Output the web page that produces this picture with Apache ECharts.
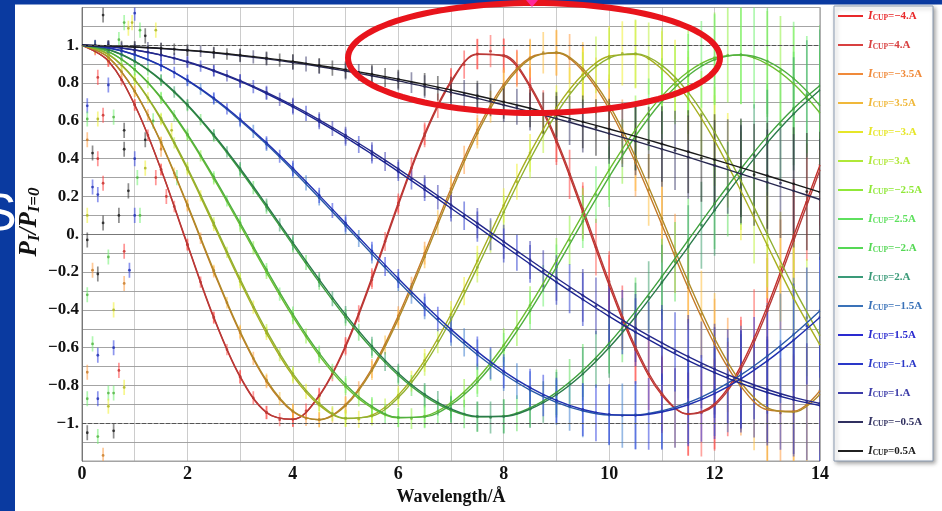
<!DOCTYPE html>
<html><head><meta charset="utf-8">
<script src="https://cdn.jsdelivr.net/npm/echarts@6/dist/echarts.min.js"></script>
<style>html,body{margin:0;padding:0;background:#ffffff}#c{width:942px;height:511px}</style>
</head><body><div id="c"></div>
<script>
// ---- data ----
const lambda = [0,0.5,1,1.5,2,2.5,3,3.5,4,4.5,5,5.5,6,6.5,7,7.5,8,8.5,9,9.5,10,10.5,11,11.5,12,12.5,13,13.5,14];
const currentLabels = ['\u22124.A','4.A','\u22123.5A','3.5A','\u22123.A','3.A','\u22122.5A','2.5A','\u22122.A','2.A','\u22121.5A','1.5A','\u22121.A','1.A','\u22120.5A','0.5A'];
// fitted curves
const curveM40 = [1,0.917,0.684,0.341,-0.057,-0.443,-0.756,-0.944,-0.978,-0.852,-0.588,-0.229,0.166,0.532,0.810,0.954,0.943,0.778,0.487,0.117,-0.270,-0.611,-0.851,-0.952,-0.897,-0.696,-0.382,-0.008,0.367];
const curveP40 = [1,0.917,0.685,0.344,-0.052,-0.438,-0.752,-0.942,-0.979,-0.856,-0.596,-0.240,0.154,0.521,0.802,0.952,0.947,0.788,0.502,0.136,-0.250,-0.595,-0.841,-0.950,-0.905,-0.713,-0.406,-0.035,0.341];
const curveM35 = [1,0.936,0.756,0.483,0.151,-0.199,-0.522,-0.779,-0.939,-0.981,-0.901,-0.710,-0.431,-0.100,0.242,0.553,0.793,0.935,0.959,0.865,0.663,0.380,0.051,-0.283,-0.581,-0.805,-0.928,-0.936,-0.827];
const curveP35 = [1,0.937,0.758,0.487,0.157,-0.191,-0.514,-0.772,-0.935,-0.981,-0.907,-0.721,-0.448,-0.120,0.221,0.534,0.779,0.928,0.962,0.877,0.685,0.409,0.084,-0.250,-0.551,-0.784,-0.919,-0.941,-0.846];
const curveM30 = [1,0.952,0.817,0.607,0.343,0.048,-0.250,-0.524,-0.749,-0.904,-0.975,-0.957,-0.851,-0.667,-0.423,-0.141,0.153,0.431,0.669,0.845,0.942,0.952,0.875,0.718,0.496,0.229,-0.058,-0.338,-0.586];
const curveP30 = [1,0.953,0.820,0.613,0.352,0.060,-0.237,-0.510,-0.737,-0.895,-0.973,-0.962,-0.864,-0.689,-0.452,-0.175,0.117,0.397,0.639,0.823,0.932,0.956,0.894,0.751,0.541,0.283,0.000,-0.282,-0.536];
const curveM25 = [1,0.966,0.871,0.720,0.523,0.294,0.048,-0.201,-0.436,-0.642,-0.807,-0.919,-0.971,-0.962,-0.891,-0.763,-0.587,-0.375,-0.139,0.105,0.341,0.554,0.731,0.860,0.934,0.948,0.901,0.797,0.642];
const curveP25 = [1,0.967,0.872,0.724,0.530,0.304,0.060,-0.187,-0.422,-0.629,-0.795,-0.911,-0.969,-0.966,-0.902,-0.781,-0.612,-0.405,-0.174,0.068,0.304,0.520,0.703,0.840,0.924,0.950,0.916,0.824,0.681];
const curveM20 = [1,0.977,0.915,0.814,0.681,0.520,0.339,0.144,-0.056,-0.253,-0.439,-0.605,-0.746,-0.856,-0.931,-0.966,-0.962,-0.918,-0.836,-0.721,-0.576,-0.408,-0.224,-0.031,0.162,0.347,0.518,0.666,0.787];
const curveP20 = [1,0.978,0.916,0.817,0.686,0.527,0.348,0.155,-0.044,-0.239,-0.425,-0.592,-0.735,-0.847,-0.924,-0.964,-0.964,-0.925,-0.849,-0.739,-0.599,-0.436,-0.255,-0.066,0.127,0.312,0.485,0.637,0.763];
const curveM15 = [1,0.986,0.950,0.892,0.813,0.716,0.602,0.476,0.338,0.193,0.045,-0.104,-0.250,-0.390,-0.520,-0.637,-0.739,-0.824,-0.889,-0.934,-0.956,-0.956,-0.934,-0.891,-0.827,-0.744,-0.644,-0.530,-0.404];
const curveP15 = [1,0.987,0.951,0.894,0.816,0.721,0.609,0.484,0.349,0.206,0.059,-0.089,-0.234,-0.373,-0.503,-0.621,-0.725,-0.811,-0.879,-0.927,-0.953,-0.958,-0.940,-0.902,-0.843,-0.765,-0.670,-0.560,-0.439];
const curveM10 = [1,0.993,0.975,0.948,0.911,0.864,0.809,0.745,0.674,0.596,0.513,0.424,0.332,0.236,0.138,0.040,-0.059,-0.157,-0.253,-0.345,-0.434,-0.518,-0.596,-0.668,-0.732,-0.789,-0.837,-0.876,-0.906];
const curveP10 = [1,0.993,0.976,0.949,0.913,0.867,0.813,0.751,0.682,0.606,0.524,0.437,0.346,0.252,0.156,0.059,-0.039,-0.136,-0.231,-0.323,-0.411,-0.496,-0.574,-0.647,-0.713,-0.771,-0.821,-0.863,-0.895];
const curveM05 = [1,0.997,0.991,0.983,0.973,0.960,0.945,0.928,0.909,0.888,0.864,0.839,0.812,0.782,0.751,0.719,0.684,0.649,0.612,0.573,0.533,0.493,0.451,0.408,0.364,0.320,0.275,0.230,0.184];
const curveP05 = [1,0.997,0.991,0.984,0.974,0.962,0.948,0.932,0.914,0.893,0.871,0.847,0.821,0.793,0.764,0.733,0.701,0.667,0.631,0.595,0.557,0.518,0.478,0.437,0.395,0.353,0.310,0.267,0.223];
// half length of the error bars at the curve wavelengths
const errHalf = [0,0.03,0.03,0.03,0.03,0.03,0.035,0.035,0.04,0.04,0.045,0.05,0.05,0.06,0.07,0.08,0.09,0.10,0.12,0.14,0.16,0.18,0.20,0.22,0.24,0.26,0.28,0.30,0.32];
// extra measured points between the curve samples
const lambdaMid = [0.25,0.75,1.25,1.75,2.25,2.75,3.25,3.75,4.25,4.75,5.25,5.75,6.25,6.75,7.25,7.75,8.25,8.75,9.25,9.75,10.25,10.75,11.25,11.75,12.25,12.75,13.25,13.75];
const pointsI40 = [0.978,0.817,0.524,0.147,-0.253,-0.610,-0.866,-0.981,-0.935,-0.738,-0.421,-0.038,0.351,0.680,0.898,0.969,0.882,0.652,0.317,-0.068,-0.441,-0.740,-0.918,-0.945,-0.819,-0.561,-0.212,0.170];
const pointsI35 = [0.983,0.860,0.631,0.324,-0.021,-0.362,-0.657,-0.870,-0.974,-0.957,-0.823,-0.586,-0.279,0.062,0.394,0.675,0.873,0.961,0.930,0.785,0.543,0.235,-0.101,-0.423,-0.691,-0.873,-0.946,-0.902];
const pointsI30 = [0.988,0.896,0.722,0.484,0.203,-0.096,-0.385,-0.637,-0.831,-0.948,-0.978,-0.919,-0.777,-0.564,-0.301,-0.012,0.278,0.540,0.753,0.896,0.957,0.930,0.819,0.634,0.392,0.115,-0.171,-0.441];
const pointsI25 = [0.991,0.926,0.803,0.628,0.415,0.177,-0.072,-0.316,-0.538,-0.725,-0.866,-0.951,-0.975,-0.937,-0.840,-0.690,-0.496,-0.272,-0.032,0.210,0.437,0.635,0.792,0.899,0.948,0.936,0.865,0.739];
const pointsI20 = [0.994,0.951,0.870,0.753,0.607,0.436,0.247,0.050,-0.149,-0.341,-0.518,-0.673,-0.800,-0.894,-0.951,-0.969,-0.947,-0.887,-0.790,-0.662,-0.507,-0.332,-0.145,0.048,0.238,0.418,0.580,0.717];
const pointsI15 = [0.996,0.971,0.924,0.856,0.769,0.664,0.545,0.413,0.272,0.126,-0.022,-0.170,-0.313,-0.448,-0.572,-0.682,-0.777,-0.853,-0.910,-0.945,-0.959,-0.950,-0.920,-0.868,-0.797,-0.708,-0.603,-0.485];
const pointsI10 = [0.998,0.986,0.963,0.931,0.890,0.839,0.781,0.714,0.640,0.560,0.475,0.385,0.292,0.196,0.098,0.000,-0.098,-0.194,-0.288,-0.379,-0.465,-0.547,-0.622,-0.691,-0.752,-0.805,-0.850,-0.886];
const pointsI05 = [0.999,0.994,0.988,0.979,0.968,0.954,0.939,0.921,0.901,0.879,0.856,0.830,0.802,0.773,0.742,0.710,0.675,0.640,0.603,0.565,0.526,0.485,0.444,0.402,0.359,0.315,0.271,0.226];
const errMid = [0.03,0.03,0.03,0.03,0.03,0.03,0.035,0.035,0.04,0.04,0.045,0.05,0.055,0.065,0.075,0.085,0.095,0.11,0.13,0.15,0.17,0.19,0.21,0.23,0.25,0.27,0.29,0.31];
// scattered short-wavelength points: wavelength, value, colour group
const earlyLambda = [0.4,0.8,0.88,1.0,0.3,0.5,0.1,0.1,0.4,0.1,0.3,0.6,0.2,0.3,0.4,0.2,0.3,0.88,0.1,0.4,0.7,1.0,1.1,0.1,0.8,0.5,0.3,0.2,0.9,0.8,0.1,0.6,0.2,0.3,0.6,0.1,0.7,0.1,0.3,0.5,0.5,0.8,0.6,0.1,0.3,0.6,0.4,0.8,0.8,1.0,1.05,1.2,1.2,1.35,1.4,1.5,1.6,1.7,1.8,0.95,1.1,1.4,1.2,0.7];
const earlyValue  = [1.16,1.12,1.09,1.17,0.83,0.79,0.68,0.5,0.63,0.61,0.61,0.62,0.43,0.40,0.27,0.25,0.21,0.23,0.1,0.06,0.1,0.1,0.1,-0.03,-0.09,-0.12,-0.21,-0.19,-0.19,-0.26,-0.32,-0.40,-0.58,-0.64,-0.60,-0.73,-0.72,-0.87,-0.87,-0.84,-0.91,-0.81,-0.84,-1.05,-1.07,-1.04,-1.17,0.45,0.55,0.4,0.3,0.5,0.35,0.6,0.3,0.45,0.2,0.55,0.3,1.12,1.08,1.08,1.05,1.03];
const earlyGroup  = ['k','g','y','b','r','b','b','o','r','g','y','g','k','r','r','b','b','k','y','k','k','b','g','k','r','g','k','o','b','o','g','y','g','b','b','o','r','g','b','g','y','y','g','k','g','k','o','k','k','b','g','k','y','g','r','o','r','y','g','y','g','y','k','g'];

// ---- styling ----
const fitColors = ['#c4302c','#b83a38','#c47a28','#b08a28','#a8b020','#90b030','#6cbe30','#50b040','#3ea03e','#2a7a4a','#2858a8','#2030b0','#1c2490','#24288a','#282850','#1a1a1a'];
const legendColors = ['#e8282a','#d84040','#f08a3a','#f0b83a','#e6e628','#b0e838','#90e838','#5ee05e','#55d855','#3a9a78','#3a72b8','#2a2ad0','#2a38c8','#3a3aa8','#303060','#202020'];
const barColors = ['#ff4040','#ff5a50','#ff9a40','#ffc040','#f0f030','#c0f040','#90f040','#70f070','#60e060','#40a070','#4080d0','#3040e0','#3040d0','#4040b0','#404070','#303030'];
const groupIndex = {r:0,o:2,y:4,g:7,b:11,k:15};
const curves = [curveM40,curveP40,curveM35,curveP35,curveM30,curveP30,curveM25,curveP25,curveM20,curveP20,curveM15,curveP15,curveM10,curveP10,curveM05,curveP05];
const midSets = [pointsI40,pointsI35,pointsI30,pointsI25,pointsI20,pointsI15,pointsI10,pointsI05];
const names = currentLabels.map(c => 'ICUP=' + c);

const serif = 'Liberation Serif';
const barData = [];
curves.forEach((arr, ci) => {
  for (let i = 1; i < lambda.length; i++) barData.push([lambda[i], arr[i], errHalf[i], ci]);
});
midSets.forEach((arr, mi) => {
  for (let i = 0; i < lambdaMid.length; i++) barData.push([lambdaMid[i], arr[i], errMid[i], mi * 2 + (i % 2)]);
});
for (let i = 0; i < earlyLambda.length; i++) barData.push([earlyLambda[i], earlyValue[i], 0.04, groupIndex[earlyGroup[i]]]);

const series = [{
  type: 'custom', name: 'points', z: 2, clip: true, silent: true,
  encode: {x: 0, y: 1},
  data: barData,
  renderItem: function (params, api) {
    const x = api.value(0), y = api.value(1), e = api.value(2), ci = api.value(3);
    const t = api.coord([x, y + e]), b = api.coord([x, y - e]), c = api.coord([x, y]);
    return {type: 'group', children: [
      {type: 'line', shape: {x1: t[0], y1: t[1], x2: b[0], y2: b[1]}, style: {stroke: barColors[ci], lineWidth: 1.7, opacity: 0.55}},
      {type: 'circle', shape: {cx: c[0], cy: c[1], r: 1.4}, style: {fill: fitColors[ci], opacity: 0.8}}
    ]};
  }
}];
curves.forEach((arr, ci) => {
  const s = {
    type: 'line', name: names[ci], z: 3, showSymbol: false, smooth: 0.35, silent: true,
    data: lambda.map((x, i) => [x, arr[i]]),
    lineStyle: {color: fitColors[ci], width: 1.4},
    itemStyle: {color: legendColors[ci]}
  };
  if (ci === 0) {
    s.markLine = {silent: true, symbol: 'none', label: {show: false},
      lineStyle: {type: 'dashed', color: '#555', width: 1}, data: [{yAxis: 1}, {yAxis: -1}]};
  }
  series.push(s);
});

// red annotation ellipse
const ell = [];
for (let i = 0; i < 120; i++) {
  const a = i / 120 * Math.PI * 2;
  ell.push([534 + 186 * Math.cos(a), 58 + 55 * Math.sin(a)]);
}

const chart = echarts.init(document.getElementById('c'));
chart.setOption({
  backgroundColor: '#ffffff',
  animation: false,
  grid: {left: 82, right: 122, top: 7.5, bottom: 46, show: true, borderColor: '#8a8a8a', borderWidth: 1},
  xAxis: {
    type: 'value', min: 0, max: 14, interval: 1,
    name: 'Wavelength/\u00c5', nameLocation: 'middle', nameGap: 23,
    nameTextStyle: {fontFamily: serif, fontWeight: 'bold', fontSize: 18, color: '#111'},
    axisLine: {show: true, lineStyle: {color: '#777'}},
    axisTick: {show: false},
    axisLabel: {margin: 4, fontFamily: serif, fontWeight: 'bold', fontSize: 18, color: '#111',
      formatter: v => (Math.round(v) % 2 === 0 ? String(Math.round(v)) : '')},
    splitLine: {show: true, lineStyle: {type: 'dotted', color: '#999', width: 1}}
  },
  yAxis: {
    type: 'value', min: -1.2, max: 1.2, interval: 0.1,
    axisLine: {show: true, lineStyle: {color: '#777'}},
    axisTick: {show: false},
    axisLabel: {margin: 3, fontFamily: serif, fontWeight: 'bold', fontSize: 17, color: '#111',
      formatter: v => {
        const t = Math.round(v * 10);
        if (t % 2 !== 0 || Math.abs(t) > 10) return '';
        if (t === 0) return '0.';
        const s = Math.abs(t) === 10 ? '1.' : (Math.abs(t) / 10).toFixed(1);
        return (t < 0 ? '\u2212' : '') + s;
      }},
    splitLine: {show: true, lineStyle: {color: '#a4a4a4', width: 1}}
  },
  legend: {
    orient: 'vertical', left: 838, top: 9, itemWidth: 25, itemHeight: 2, itemGap: 15,
    icon: 'rect', selectedMode: false, padding: 0,
    data: names.map((n, i) => ({name: n, itemStyle: {color: legendColors[i]}, textStyle: {color: legendColors[i]}})),
    formatter: n => '{i|I}{s|CUP}{v|=' + n.split('=')[1] + '}',
    textStyle: {fontFamily: serif, fontWeight: 'bold', fontSize: 11, lineHeight: 14,
      rich: {
        i: {fontFamily: serif, fontStyle: 'italic', fontWeight: 'bold', fontSize: 12},
        s: {fontFamily: serif, fontWeight: 'bold', fontSize: 7.5, padding: [4, 0, 0, 0]},
        v: {fontFamily: serif, fontWeight: 'bold', fontSize: 11}
      }}
  },
  graphic: [
    {type: 'rect', shape: {x: 0, y: 0, width: 942, height: 4.5}, style: {fill: '#0a3aa0'}, silent: true},
    {type: 'rect', shape: {x: 0, y: 0, width: 15, height: 511}, style: {fill: '#0a3aa0'}, silent: true},
    {type: 'text', x: -18, y: 216, style: {text: 'S', font: 'normal 52px "Liberation Sans"', fill: '#ffffff', textVerticalAlign: 'middle'}, silent: true},
    {type: 'rect', shape: {x: 834, y: 6, width: 99, height: 455}, style: {fill: '#ffffff', stroke: '#8a9ab0', lineWidth: 1, shadowBlur: 4, shadowColor: 'rgba(0,0,0,0.35)', shadowOffsetX: 2, shadowOffsetY: 2}, silent: true},
    {type: 'text', x: 30, y: 222, rotation: Math.PI / 2, silent: true,
      style: {text: '{p|P}{s|I}{p|/P}{s|I=0}', textAlign: 'center', textVerticalAlign: 'middle', fill: '#111',
        rich: {p: {fontFamily: serif, fontStyle: 'italic', fontWeight: 'bold', fontSize: 25},
               s: {fontFamily: serif, fontStyle: 'italic', fontWeight: 'bold', fontSize: 17, padding: [9, 0, 0, 0]}}}},
    {type: 'polygon', z: 100, shape: {points: ell}, style: {fill: 'none', stroke: '#e8141c', lineWidth: 6}, silent: true},
    {type: 'polygon', z: 101, shape: {points: [[526, 0], [538, 0], [532, 7]]}, style: {fill: '#ff2a9a'}, silent: true}
  ],
  series: series
});
</script>
</body></html>
